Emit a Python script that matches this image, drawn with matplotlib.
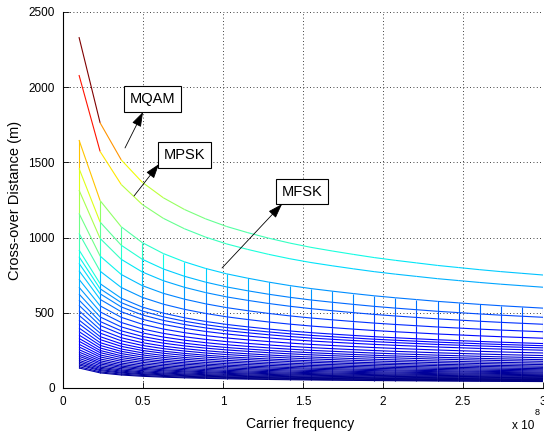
import numpy as np
import matplotlib
matplotlib.use('Agg')
import matplotlib.pyplot as plt
from matplotlib.collections import LineCollection
from matplotlib.colors import Normalize

plt.rcParams['font.family'] = ['Liberation Sans', 'DejaVu Sans']

# carrier frequencies of the mesh columns (Hz)
freq_hz = [1.0e7, 2.32e7, 3.64e7, 4.95e7, 6.27e7, 7.59e7, 8.91e7, 10.23e7,
           11.55e7, 12.86e7, 14.18e7, 15.5e7, 16.82e7, 18.14e7, 19.45e7,
           20.77e7, 22.09e7, 23.41e7, 24.73e7, 26.05e7, 27.36e7, 28.68e7, 30.0e7]

# top MFSK curve, one value per column (m)
mfsk_top = [1649, 1246, 1072, 967, 894, 839, 795, 759, 730, 704, 681, 661,
            644, 628, 613, 600, 588, 576, 566, 556, 547, 539, 531]

# value of every MFSK row at the first column (m)
mfsk_start = [1649, 1460, 1316, 1161, 1028, 918, 873, 829, 780, 723, 670, 625,
              585, 550, 514, 483, 452, 426, 399, 375, 352, 330, 311, 291, 273,
              255, 239, 224, 211, 197, 184, 173, 162, 153, 142, 133]

mqam_start = [2333]
mpsk_start = [2081]

# annotation boxes: label, box centre, arrow tail, arrow head
labels = ['MQAM', 'MPSK', 'MFSK']
box_xy = [(0.561e8, 1922), (0.761e8, 1547), (1.494e8, 1306)]
tail_xy = [(0.3875e8, 1596), (0.444e8, 1277), (0.994e8, 798)]
head_xy = [(0.50e8, 1835), (0.60e8, 1489), (1.369e8, 1223)]


def scaled_rows(starts):
    prof = np.array(mfsk_top, dtype=float)
    return np.outer(np.array(starts, dtype=float) / prof[0], prof)


x = np.array(freq_hz)
mfsk = scaled_rows(mfsk_start)
mpsk = scaled_rows(mpsk_start)
mqam = scaled_rows(mqam_start)

allz = np.concatenate([mfsk.ravel(), mpsk.ravel(), mqam.ravel()])
norm = Normalize(vmin=allz.min(), vmax=allz.max())


def curve_segments(rows):
    segs, vals = [], []
    for r in rows:
        for j in range(len(x) - 1):
            segs.append([(x[j], r[j]), (x[j + 1], r[j + 1])])
            vals.append(r[j])
    return segs, vals


def column_segments(rows):
    segs, vals = [], []
    for j in range(len(x)):
        for i in range(rows.shape[0] - 1):
            segs.append([(x[j], rows[i, j]), (x[j], rows[i + 1, j])])
            vals.append(rows[i, j])
    return segs, vals


fig = plt.figure(figsize=(5.44, 4.34), dpi=100)
ax = fig.add_axes([63 / 544, 46 / 434, 480 / 544, 376 / 434])

for segs, vals in [column_segments(mfsk), curve_segments(mfsk),
                   curve_segments(mpsk), curve_segments(mqam)]:
    lc = LineCollection(segs, cmap='jet', norm=norm, linewidths=0.8)
    lc.set_array(np.array(vals))
    ax.add_collection(lc)

ax.set_xlim(0, 3e8)
ax.set_ylim(0, 2500)
ax.set_xticks(np.arange(0, 3.01e8, 0.5e8))
ax.set_xticklabels(['0', '0.5', '1', '1.5', '2', '2.5', '3'])
ax.set_yticks(np.arange(0, 2501, 500))
ax.tick_params(direction='in', length=4, width=0.6, labelsize=8.5,
               top=False, right=False, pad=6)
ax.spines['top'].set_visible(False)
ax.spines['right'].set_visible(False)
ax.grid(True, color='black', linestyle=(0, (1, 3)), linewidth=0.6)
ax.set_axisbelow(True)

ax.set_xlabel('Carrier frequency', fontsize=10)
ax.set_ylabel('Cross-over Distance (m)', fontsize=10.5)
ax.xaxis.set_label_coords((300 - 63) / 480, -0.076)
ax.yaxis.set_label_coords((22 - 63) / 480, 0.5)

fig.text(512 / 544, 0.004, 'x 10', fontsize=8.5, ha='left', va='bottom')
fig.text(535 / 544, 0.040, '8', fontsize=6.5, ha='left', va='bottom')

for lab, bxy, txy, hxy in zip(labels, box_xy, tail_xy, head_xy):
    ax.annotate('', xy=hxy, xytext=txy,
                arrowprops=dict(arrowstyle='-|>,head_length=0.9,head_width=0.3',
                                color='black', lw=0.6, shrinkA=0, shrinkB=0))
    ax.text(bxy[0], bxy[1], lab, fontsize=10.5, ha='center', va='center',
            bbox=dict(boxstyle='square,pad=0.4', fc='white', ec='black', lw=0.8))

fig.savefig('out.png', dpi=100)
